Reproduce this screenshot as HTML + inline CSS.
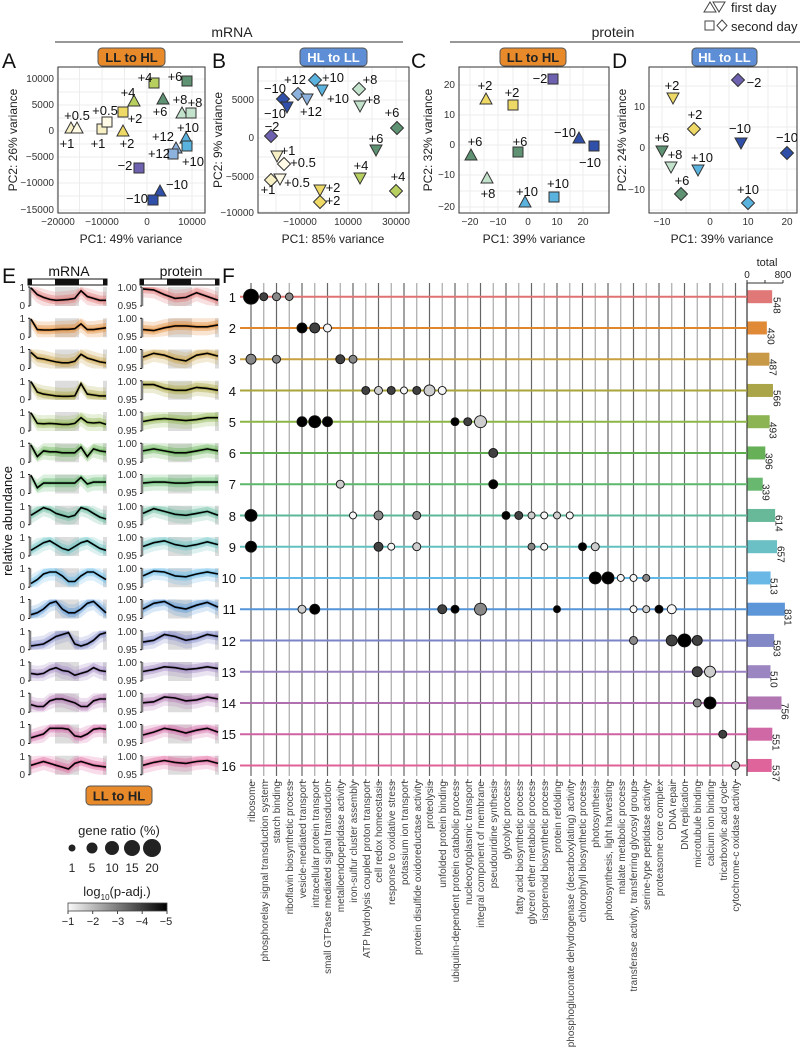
<!DOCTYPE html>
<html><head><meta charset="utf-8"><style>
html,body{margin:0;padding:0;background:#fff}
svg{display:block;font-family:"Liberation Sans",Arial,sans-serif}
</style></head><body>
<svg id="s" width="800" height="1056" viewBox="0 0 800 1056" xmlns="http://www.w3.org/2000/svg">
<rect width="800" height="1056" fill="#fff"/>
<text x="232" y="37" font-size="14" text-anchor="middle" fill="#222">mRNA</text>
<line x1="55" y1="42" x2="403" y2="42" stroke="#777" stroke-width="1.5"/>
<text x="613" y="37" font-size="14" text-anchor="middle" fill="#222">protein</text>
<line x1="450" y1="42" x2="800" y2="42" stroke="#777" stroke-width="1.5"/>
<text x="731" y="12" font-size="13" fill="#222">first day</text>
<text x="731" y="31" font-size="13" fill="#222">second day</text>
<path d="M704,12 L710,2 L716,12Z M713,2 L725,2 L719,12Z" fill="none" stroke="#444" stroke-width="1"/>
<rect x="705" y="21" width="9" height="9" fill="none" stroke="#444"/>
<path d="M722,20 L727,25.5 L722,31 L717,25.5Z" fill="none" stroke="#444"/>
<g font-size="21" fill="#111">
<text x="2" y="68">A</text><text x="212" y="68">B</text><text x="411" y="68">C</text><text x="612" y="68">D</text>
<text x="2" y="283">E</text><text x="222" y="283">F</text>
</g>
<g font-size="13" font-weight="bold" text-anchor="middle">
<rect x="98" y="48" width="67" height="18" rx="4" fill="#e8892a" stroke="#555"/><text x="131.5" y="62" fill="#222">LL to HL</text>
<rect x="300" y="48" width="67" height="18" rx="4" fill="#5e8fd6" stroke="#555"/><text x="333.5" y="62" fill="#fff">HL to LL</text>
<rect x="500" y="48" width="66" height="18" rx="4" fill="#e8892a" stroke="#555"/><text x="533" y="62" fill="#222">LL to HL</text>
<rect x="692" y="48" width="65" height="18" rx="4" fill="#5e8fd6" stroke="#555"/><text x="724.5" y="62" fill="#fff">HL to LL</text>
<rect x="86" y="786" width="66" height="19" rx="4" fill="#e8892a" stroke="#555"/><text x="119" y="800.5" fill="#222">LL to HL</text>
</g>
<g id="pcagrid"></g>
<g fill="none" stroke="#333" stroke-width="1">
<rect x="58" y="67" width="147" height="146"/>
<rect x="258" y="67" width="151" height="146"/>
<rect x="459" y="67" width="150" height="146"/>
<rect x="649" y="67" width="148" height="146"/>
</g>
<g font-size="10" fill="#333">
<g text-anchor="end">
<text x="54" y="82">10000</text><text x="54" y="108">5000</text><text x="54" y="134">0</text><text x="54" y="160">−5000</text><text x="54" y="186">−10000</text><text x="54" y="213">−15000</text>
<text x="254" y="103">5000</text><text x="254" y="141">0</text><text x="254" y="180">−5000</text><text x="254" y="216">−10000</text>
<text x="455" y="88">20</text><text x="455" y="118">10</text><text x="455" y="148">0</text><text x="455" y="178">−10</text><text x="455" y="210">−20</text>
<text x="645" y="110">10</text><text x="645" y="151">0</text><text x="645" y="193">−10</text>
</g>
<g text-anchor="middle">
<text x="58" y="225">−20000</text><text x="102" y="225">−10000</text><text x="147" y="225">0</text><text x="192" y="225">10000</text>
<text x="300" y="225">−10000</text><text x="348" y="225">10000</text><text x="396" y="225">30000</text>
<text x="470" y="225">−20</text><text x="498" y="225">−10</text><text x="528" y="225">0</text><text x="557" y="225">10</text><text x="583" y="225">20</text>
<text x="662" y="225">−10</text><text x="710" y="225">0</text><text x="748" y="225">10</text><text x="787" y="225">20</text>
</g>
</g>
<g font-size="12" fill="#222" text-anchor="middle">
<text x="131" y="243">PC1: 49% variance</text><text x="333" y="243">PC1: 85% variance</text>
<text x="534" y="243">PC1: 39% variance</text><text x="722" y="243">PC1: 39% variance</text>
<text transform="translate(17,140) rotate(-90)">PC2: 26% variance</text>
<text transform="translate(222,140) rotate(-90)">PC2: 9% variance</text>
<text transform="translate(432,140) rotate(-90)">PC2: 32% variance</text>
<text transform="translate(626,140) rotate(-90)">PC2: 24% variance</text>
</g>
<g id="markers"></g>
<g font-size="13" fill="#111" text-anchor="middle">
<text x="77" y="120">+0.5</text><text x="67" y="148">+1</text><text x="105" y="115">+0.5</text><text x="98" y="148">+1</text>
<text x="127" y="148">+2</text><text x="135" y="123">+2</text><text x="128" y="97">+4</text><text x="145" y="82">+4</text>
<text x="160" y="116">+6</text><text x="175" y="81">+6</text><text x="180" y="104">+8</text><text x="195" y="107">+8</text>
<text x="188" y="132">+10</text><text x="193" y="166">+10</text><text x="163" y="141">+12</text><text x="159" y="158">+12</text>
<text x="125" y="170">−2</text><text x="177" y="189">−10</text><text x="137" y="203">−10</text>
<text x="275" y="93">−10</text><text x="275" y="118">−10</text><text x="295" y="84">+12</text><text x="311" y="116">+12</text>
<text x="333" y="82">+10</text><text x="338" y="103">+10</text><text x="370" y="84">+8</text><text x="373" y="104">+8</text>
<text x="272" y="131">−2</text><text x="288" y="155">+1</text><text x="303" y="167">+0.5</text><text x="268" y="194">+1</text><text x="297" y="187">+0.5</text>
<text x="333" y="192">+2</text><text x="333" y="205">+2</text><text x="361" y="170">+4</text><text x="376" y="143">+6</text>
<text x="392" y="117">+6</text><text x="398" y="181">+4</text>
<text x="485" y="90">+2</text><text x="512" y="97">+2</text><text x="540" y="83">−2</text><text x="565" y="137">−10</text><text x="590" y="167">−10</text>
<text x="475" y="146">+6</text><text x="520" y="146">+6</text><text x="488" y="198">+8</text><text x="527" y="196">+10</text><text x="558" y="188">+10</text>
<text x="672" y="90">+2</text><text x="695" y="119">+2</text><text x="754" y="87">−2</text><text x="740" y="133">−10</text><text x="787" y="142">−10</text>
<text x="662" y="142">+6</text><text x="675" y="159">+8</text><text x="682" y="185">+6</text><text x="702" y="162">+10</text><text x="748" y="194">+10</text>
</g>
<text x="69" y="276" font-size="14" text-anchor="middle" fill="#111">mRNA</text>
<text x="181" y="276" font-size="14" text-anchor="middle" fill="#111">protein</text>
<g id="epanel"></g>
<text transform="translate(12,521) rotate(-90)" font-size="13" text-anchor="middle" fill="#111">relative abundance</text>
<g id="fpanel"></g>
<text x="767" y="266" font-size="11" text-anchor="middle" fill="#222">total</text>
<text x="747" y="278" font-size="10" text-anchor="middle" fill="#222">0</text>
<text x="783" y="278" font-size="10" text-anchor="middle" fill="#222">800</text>
<g font-size="13" fill="#111" text-anchor="end">
<text x="236" y="302">1</text><text x="236" y="333">2</text><text x="236" y="364">3</text><text x="236" y="396">4</text>
<text x="236" y="427">5</text><text x="236" y="458">6</text><text x="236" y="489">7</text><text x="236" y="521">8</text>
<text x="236" y="552">9</text><text x="236" y="583">10</text><text x="236" y="614">11</text><text x="236" y="646">12</text>
<text x="236" y="677">13</text><text x="236" y="708">14</text><text x="236" y="739">15</text><text x="236" y="771">16</text>
</g>
<g font-size="10" fill="#222">
<text transform="translate(776,297) rotate(90)" dominant-baseline="middle">548</text>
<text transform="translate(770,328) rotate(90)" dominant-baseline="middle">430</text>
<text transform="translate(772,359) rotate(90)" dominant-baseline="middle">487</text>
<text transform="translate(776,390) rotate(90)" dominant-baseline="middle">566</text>
<text transform="translate(772,422) rotate(90)" dominant-baseline="middle">493</text>
<text transform="translate(768,453) rotate(90)" dominant-baseline="middle">396</text>
<text transform="translate(765,484) rotate(90)" dominant-baseline="middle">339</text>
<text transform="translate(778,515) rotate(90)" dominant-baseline="middle">614</text>
<text transform="translate(780,546) rotate(90)" dominant-baseline="middle">657</text>
<text transform="translate(773,578) rotate(90)" dominant-baseline="middle">513</text>
<text transform="translate(787,609) rotate(90)" dominant-baseline="middle">831</text>
<text transform="translate(776,640) rotate(90)" dominant-baseline="middle">593</text>
<text transform="translate(773,671) rotate(90)" dominant-baseline="middle">510</text>
<text transform="translate(784,703) rotate(90)" dominant-baseline="middle">756</text>
<text transform="translate(775,734) rotate(90)" dominant-baseline="middle">551</text>
<text transform="translate(775,765) rotate(90)" dominant-baseline="middle">537</text>
</g>
<g font-size="10" fill="#444" text-anchor="end">
<text transform="translate(255,781) rotate(-90)">ribosome</text>
<text transform="translate(268,781) rotate(-90)">phosphorelay signal transduction system</text>
<text transform="translate(280,781) rotate(-90)">starch binding</text>
<text transform="translate(293,781) rotate(-90)">riboflavin biosynthetic process</text>
<text transform="translate(306,781) rotate(-90)">vesicle-mediated transport</text>
<text transform="translate(319,781) rotate(-90)">intracellular protein transport</text>
<text transform="translate(331,781) rotate(-90)">small GTPase mediated signal transduction</text>
<text transform="translate(344,781) rotate(-90)">metalloendopeptidase activity</text>
<text transform="translate(357,781) rotate(-90)">iron-sulfur cluster assembly</text>
<text transform="translate(370,781) rotate(-90)">ATP hydrolysis coupled proton transport</text>
<text transform="translate(382,781) rotate(-90)">cell redox homeostasis</text>
<text transform="translate(395,781) rotate(-90)">response to oxidative stress</text>
<text transform="translate(408,781) rotate(-90)">potassium ion transport</text>
<text transform="translate(421,781) rotate(-90)">protein disulfide oxidoreductase activity</text>
<text transform="translate(433,781) rotate(-90)">proteolysis</text>
<text transform="translate(446,781) rotate(-90)">unfolded protein binding</text>
<text transform="translate(459,781) rotate(-90)">ubiquitin-dependent protein catabolic process</text>
<text transform="translate(472,781) rotate(-90)">nucleocytoplasmic transport</text>
<text transform="translate(484,781) rotate(-90)">integral component of membrane</text>
<text transform="translate(497,781) rotate(-90)">pseudouridine synthesis</text>
<text transform="translate(510,781) rotate(-90)">glycolytic process</text>
<text transform="translate(523,781) rotate(-90)">fatty acid biosynthetic process</text>
<text transform="translate(535,781) rotate(-90)">glycerol ether metabolic process</text>
<text transform="translate(548,781) rotate(-90)">isoprenoid biosynthetic process</text>
<text transform="translate(561,781) rotate(-90)">protein refolding</text>
<text transform="translate(574,781) rotate(-90)">phosphogluconate dehydrogenase (decarboxylating) activity</text>
<text transform="translate(586,781) rotate(-90)">chlorophyll biosynthetic process</text>
<text transform="translate(599,781) rotate(-90)">photosynthesis</text>
<text transform="translate(612,781) rotate(-90)">photosynthesis, light harvesting</text>
<text transform="translate(625,781) rotate(-90)">malate metabolic process</text>
<text transform="translate(637,781) rotate(-90)">transferase activity, transferring glycosyl groups</text>
<text transform="translate(650,781) rotate(-90)">serine-type peptidase activity</text>
<text transform="translate(663,781) rotate(-90)">proteasome core complex</text>
<text transform="translate(676,781) rotate(-90)">DNA repair</text>
<text transform="translate(688,781) rotate(-90)">DNA replication</text>
<text transform="translate(701,781) rotate(-90)">microtubule binding</text>
<text transform="translate(714,781) rotate(-90)">calcium ion binding</text>
<text transform="translate(727,781) rotate(-90)">tricarboxylic acid cycle</text>
<text transform="translate(739,781) rotate(-90)">cytochrome-c oxidase activity</text>
</g>
<text x="119" y="835" font-size="13" text-anchor="middle" fill="#222">gene ratio (%)</text>
<g fill="#222">
<circle cx="72" cy="848" r="3.5"/><circle cx="92" cy="848" r="5.5"/><circle cx="112" cy="848" r="7"/><circle cx="132" cy="848" r="8"/><circle cx="152" cy="848" r="9"/>
</g>
<g font-size="12" fill="#222" text-anchor="middle">
<text x="72" y="872">1</text><text x="92" y="872">5</text><text x="112" y="872">10</text><text x="132" y="872">15</text><text x="152" y="872">20</text>
</g>
<text x="117" y="896" font-size="13" text-anchor="middle" fill="#222">log<tspan font-size="8" dy="4">10</tspan><tspan dy="-4">(p-adj.)</tspan></text>
<defs><linearGradient id="gr" x1="0" x2="1"><stop offset="0" stop-color="#fafafa"/><stop offset="1" stop-color="#000"/></linearGradient></defs>
<rect x="68" y="903" width="99" height="8" fill="url(#gr)" stroke="#444" stroke-width="0.8"/>
<g stroke="#444"><line x1="68" y1="911" x2="68" y2="914"/><line x1="92.7" y1="911" x2="92.7" y2="914"/><line x1="117.5" y1="911" x2="117.5" y2="914"/><line x1="142.2" y1="911" x2="142.2" y2="914"/><line x1="167" y1="911" x2="167" y2="914"/></g>
<g font-size="11" fill="#222" text-anchor="middle">
<text x="68" y="925">−1</text><text x="93" y="925">−2</text><text x="118" y="925">−3</text><text x="142" y="925">−4</text><text x="166" y="925">−5</text>
</g>
<g font-size="10" fill="#333" text-anchor="end">
<text x="25" y="291">1</text><text x="25" y="309">0</text><text x="137" y="291">1.00</text><text x="137" y="309">0.95</text>
<text x="25" y="322">1</text><text x="25" y="340">0</text><text x="137" y="322">1.00</text><text x="137" y="340">0.95</text>
<text x="25" y="353">1</text><text x="25" y="371">0</text><text x="137" y="353">1.00</text><text x="137" y="371">0.95</text>
<text x="25" y="385">1</text><text x="25" y="403">0</text><text x="137" y="385">1.00</text><text x="137" y="403">0.95</text>
<text x="25" y="416">1</text><text x="25" y="434">0</text><text x="137" y="416">1.00</text><text x="137" y="434">0.95</text>
<text x="25" y="447">1</text><text x="25" y="465">0</text><text x="137" y="447">1.00</text><text x="137" y="465">0.95</text>
<text x="25" y="478">1</text><text x="25" y="496">0</text><text x="137" y="478">1.00</text><text x="137" y="496">0.95</text>
<text x="25" y="510">1</text><text x="25" y="528">0</text><text x="137" y="510">1.00</text><text x="137" y="528">0.95</text>
<text x="25" y="541">1</text><text x="25" y="559">0</text><text x="137" y="541">1.00</text><text x="137" y="559">0.95</text>
<text x="25" y="572">1</text><text x="25" y="590">0</text><text x="137" y="572">1.00</text><text x="137" y="590">0.95</text>
<text x="25" y="603">1</text><text x="25" y="621">0</text><text x="137" y="603">1.00</text><text x="137" y="621">0.95</text>
<text x="25" y="635">1</text><text x="25" y="653">0</text><text x="137" y="635">1.00</text><text x="137" y="653">0.95</text>
<text x="25" y="666">1</text><text x="25" y="684">0</text><text x="137" y="666">1.00</text><text x="137" y="684">0.95</text>
<text x="25" y="697">1</text><text x="25" y="715">0</text><text x="137" y="697">1.00</text><text x="137" y="715">0.95</text>
<text x="25" y="728">1</text><text x="25" y="746">0</text><text x="137" y="728">1.00</text><text x="137" y="746">0.95</text>
<text x="25" y="760">1</text><text x="25" y="778">0</text><text x="137" y="760">1.00</text><text x="137" y="778">0.95</text>
</g>
</svg>
<script>
var NS="http://www.w3.org/2000/svg";
function el(p,t,a){var e=document.createElementNS(NS,t);for(var k in a)e.setAttribute(k,a[k]);p.appendChild(e);return e;}
var g=document.getElementById('pcagrid');
var grids=[[58,205,[57,102,147,192,79.5,124.5,169.5],[79,105,131,157,183,210,92,118,144,170,196]],
[258,409,[300,348,396,276,324,372],[100,138,177,212,81,119,157,195]],
[459,609,[470,498,528,557,583,484,513,542,570],[85,115,145,175,207,100,130,160,191]],
[649,797,[662,710,748,787,686,729,768],[107,148,190,86,127,169,210]]];
grids.forEach(function(q){q[2].forEach(function(x){el(g,'line',{x1:x,x2:x,y1:67,y2:213,stroke:'#ececec'});});
q[3].forEach(function(y){el(g,'line',{x1:q[0],x2:q[1],y1:y,y2:y,stroke:'#ececec'});});});
var C={m10:'#2f4fa8',m2:'#6e62b0',h:'#fffbe6',o:'#f6f0c4',t:'#efd966',f:'#b7cf5e',s:'#5e9272',e:'#c2e2cc',x:'#5ab2de',w:'#8eb2de'};
var M=[['u',71,128,'o'],['u',77,128,'h'],['q',102,129,'o'],['q',107,122,'h'],['u',123,131,'t'],['q',123,112,'t'],['u',134,101,'f'],['q',154,83,'f'],['u',163,99,'s'],['q',187,81,'s'],['u',182,113,'e'],['q',191,113,'e'],['u',186,138,'x'],['q',187,146,'x'],['u',176,148,'w'],['q',173,154,'w'],['q',139,168,'m2'],['u',160,191,'m10'],['q',153,200,'m10'],
['d',283,99,'m10'],['v',287,107,'m10'],['d',298,94,'w'],['v',307,99,'w'],['d',315,80,'x'],['v',322,90,'x'],['d',359,89,'e'],['v',360,106,'e'],['d',271,136,'m2'],['v',277,156,'o'],['d',284,164,'h'],['d',271,180,'o'],['v',280,179,'h'],['v',320,190,'t'],['d',320,202,'t'],['v',360,178,'f'],['v',376,150,'s'],['d',397,128,'s'],['d',396,191,'f'],
['u',486,99,'t'],['q',513,105,'t'],['q',553,79,'m2'],['u',579,138,'m10'],['q',594,146,'m10'],['u',471,155,'s'],['q',518,152,'s'],['u',487,178,'e'],['u',525,202,'x'],['q',554,197,'x'],
['v',673,98,'t'],['d',694,129,'t'],['d',738,80,'m2'],['v',741,143,'m10'],['d',787,153,'m10'],['v',662,151,'s'],['v',671,167,'e'],['d',681,194,'s'],['v',698,170,'x'],['d',748,203,'x']];
var mg=document.getElementById('markers');
M.forEach(function(m){var x=m[1],y=m[2],f=C[m[3]],a={fill:f,stroke:'#333','stroke-width':1},d;
if(m[0]=='q'){el(mg,'rect',Object.assign({x:x-5,y:y-5,width:10,height:10},a));return;}
if(m[0]=='u')d='M'+(x-6)+','+(y+5)+'L'+x+','+(y-6)+'L'+(x+6)+','+(y+5)+'Z';
if(m[0]=='v')d='M'+(x-6)+','+(y-5)+'L'+x+','+(y+6)+'L'+(x+6)+','+(y-5)+'Z';
if(m[0]=='d')d='M'+x+','+(y-6.5)+'L'+(x+6.5)+','+y+'L'+x+','+(y+6.5)+'L'+(x-6.5)+','+y+'Z';
a.d=d;el(mg,'path',a);});
var RC=['#e07272','#e0862c','#c9a040','#aaa53a','#8cb548','#5eae4e','#5cb86a','#5cb898','#62c0c0','#62b8e6','#5494d8','#7c84c8','#9a80c0','#b070b0','#d062a2','#e0609a'];
var BC=['#e07878','#e08a38','#c89a48','#aaa548','#8cb452','#66b058','#68b870','#68b89a','#6ac0c4','#6ab8e6','#5c96d8','#8288c6','#9c86c2','#b276b2','#d068a6','#e0649c'];
var ep=document.getElementById('epanel');
var MR=[[.95,.6,.45,.35,.3,.32,.35,.4,.8,.5,.4,.3,.3],[.95,.4,.38,.38,.4,.42,.42,.45,.7,.4,.4,.45,.5],[.85,.55,.5,.42,.35,.3,.3,.38,.75,.55,.45,.35,.3],[.95,.4,.3,.25,.2,.18,.18,.2,.85,.3,.25,.2,.2],[.95,.4,.38,.4,.38,.35,.35,.4,.7,.45,.42,.45,.35],[.9,.3,.6,.55,.55,.5,.5,.5,.8,.3,.7,.6,.55],[.95,.3,.55,.55,.55,.55,.55,.55,.85,.5,.6,.6,.6],[.5,.7,.9,.8,.6,.5,.4,.5,.9,.8,.6,.4,.3],[.3,.5,.7,.8,.6,.4,.3,.5,.7,.8,.6,.4,.3],[.2,.4,.7,.8,.8,.6,.3,.3,.6,.8,.8,.6,.4],[.2,.3,.5,.8,.9,.5,.3,.3,.5,.8,.9,.6,.3],[.2,.25,.3,.5,.7,.8,.9,.3,.2,.3,.5,.8,.9],[.4,.35,.4,.6,.7,.55,.5,.3,.4,.5,.7,.55,.5],[.4,.3,.3,.6,.7,.7,.6,.5,.3,.3,.6,.7,.7],[.3,.4,.5,.8,.8,.8,.75,.4,.35,.5,.75,.8,.75],[.5,.6,.7,.6,.5,.4,.3,.6,.7,.6,.5,.45,.4]];
var PR=[[.9,.85,.6,.4,.45,.7,.5,.3],[.4,.35,.5,.6,.6,.55,.55,.65],[.6,.8,.7,.5,.4,.7,.8,.65],[.8,.8,.6,.5,.5,.65,.6,.5],[.5,.6,.65,.6,.55,.6,.7,.7],[.6,.7,.6,.5,.5,.6,.7,.6],[.55,.6,.6,.55,.55,.6,.6,.6],[.6,.85,.7,.55,.5,.6,.7,.5],[.5,.7,.8,.6,.5,.6,.75,.6],[.6,.85,.8,.6,.55,.7,.8,.7],[.5,.8,.9,.6,.5,.7,.85,.6],[.4,.5,.8,.7,.5,.6,.8,.7],[.5,.6,.75,.7,.6,.65,.75,.65],[.5,.55,.8,.75,.6,.65,.8,.7],[.45,.6,.8,.7,.55,.7,.8,.6],[.5,.65,.75,.65,.6,.7,.75,.6]];
function hb(x0,y){el(ep,'rect',{x:x0,y:y,width:79,height:6,fill:'#fff',stroke:'#111','stroke-width':1});
el(ep,'rect',{x:x0,y:y,width:4,height:6,fill:'#111'});el(ep,'rect',{x:x0+27,y:y,width:24,height:6,fill:'#111'});el(ep,'rect',{x:x0+75,y:y,width:4,height:6,fill:'#111'});}
hb(28,279);hb(140,279);
function pts(arr,x0,w,y0,h){var s=[];for(var i=0;i<arr.length;i++){s.push((x0+w*i/(arr.length-1)).toFixed(1)+','+(y0+h-arr[i]*h).toFixed(1));}return s;}
for(var r=0;r<16;r++){var y=287+31.25*r,h=19;
[[28,79,MR[r],55,79],[140,79,PR[r],168,192]].forEach(function(p,k){var x0=p[0],w=p[1];
el(ep,'rect',{x:x0,y:y,width:4,height:h,fill:'#ddd'});el(ep,'rect',{x:x0+75,y:y,width:4,height:h,fill:'#ddd'});
el(ep,'rect',{x:p[3],y:y,width:p[4]-p[3],height:h,fill:'#ddd'});
var arr=p[2],hi=[],lo=[];
for(var i=0;i<arr.length;i++){hi.push(Math.min(1,arr[i]+0.45));lo.push(Math.max(0,arr[i]-0.45));}
el(ep,'polygon',{points:pts(hi,x0+3,w-4,y,h).concat(pts(lo,x0+3,w-4,y,h).reverse()).join(' '),fill:RC[r],'fill-opacity':0.22});
hi=[];lo=[];for(i=0;i<arr.length;i++){hi.push(Math.min(1,arr[i]+0.25));lo.push(Math.max(0,arr[i]-0.22));}
el(ep,'polygon',{points:pts(hi,x0+3,w-4,y,h).concat(pts(lo,x0+3,w-4,y,h).reverse()).join(' '),fill:RC[r],'fill-opacity':0.4});
var a2=[],b2=[];for(i=0;i<arr.length;i++){a2.push(Math.min(1,arr[i]+0.1));b2.push(Math.max(0,arr[i]-0.1));}
el(ep,'polygon',{points:pts(a2,x0+3,w-4,y,h).concat(pts(b2,x0+3,w-4,y,h).reverse()).join(' '),fill:RC[r],'fill-opacity':0.5});
el(ep,'polyline',{points:pts(arr,x0+3,w-4,y,h).join(' '),fill:'none',stroke:'#000','stroke-width':1.6});
el(ep,'line',{x1:x0+2,x2:x0+2,y1:y,y2:y+h,stroke:'#222'});
el(ep,'line',{x1:x0,x2:x0+2,y1:y,y2:y,stroke:'#222'});el(ep,'line',{x1:x0,x2:x0+2,y1:y+h,y2:y+h,stroke:'#222'});
});}
var fp=document.getElementById('fpanel');
for(var i=0;i<39;i++){var x=251+12.75*i;el(fp,'line',{x1:x,x2:x,y1:283,y2:776,stroke:i%2?'#aaa':'#666','stroke-width':1.2});
el(fp,'line',{x1:x,x2:x,y1:779,y2:783,stroke:'#555'});}
el(fp,'line',{x1:747,x2:747,y1:283,y2:776,stroke:'#333','stroke-width':1.2});
el(fp,'line',{x1:747,x2:783,y1:283,y2:283,stroke:'#333'});
[747,765,783].forEach(function(x){el(fp,'line',{x1:x,x2:x,y1:280,y2:283,stroke:'#333'});});
var V=[548,430,487,566,493,396,339,614,657,513,831,593,510,756,551,537];
for(r=0;r<16;r++){var y=296.7+31.25*r;el(fp,'line',{x1:240,x2:747,y1:y,y2:y,stroke:RC[r],'stroke-width':2});
el(fp,'rect',{x:747.5,y:y-6.5,width:V[r]/800*36,height:13,fill:BC[r]});}
var S={K:'#000',D:'#404040',G:'#888',L:'#cdcdcd',W:'#f6f6f6'};
var DOT=[[[0,'K',7.5],[1,'D',4],[2,'G',4],[3,'G',3.8]],[[4,'K',5],[5,'D',5],[6,'W',4]],[[0,'G',5],[2,'G',4],[7,'D',4.5],[8,'G',4]],
[[9,'D',4],[10,'L',4],[11,'D',4],[12,'W',3.5],[13,'D',4],[14,'L',5.5],[15,'W',4]],[[4,'K',5],[5,'K',6],[6,'K',5],[16,'K',4],[17,'D',4],[18,'L',6]],
[[19,'D',4.5]],[[7,'L',4],[19,'K',4.5]],[[0,'K',6],[8,'W',3.5],[10,'G',4.5],[13,'G',4],[20,'K',4],[21,'D',4],[22,'L',3.5],[23,'W',3.5],[24,'L',3.5],[25,'W',3.5]],
[[0,'K',5.5],[10,'D',4.5],[11,'W',3.5],[13,'L',4],[22,'G',3.5],[23,'W',3.5],[26,'K',4],[27,'L',4]],[[27,'K',6],[28,'K',6],[29,'W',3.5],[30,'W',3.5],[31,'G',3.5]],
[[4,'L',4],[5,'K',5],[15,'D',4.5],[16,'K',4],[18,'G',6],[24,'K',3.5],[30,'W',3.5],[31,'L',3.5],[32,'K',4],[33,'W',4.5]],
[[30,'G',4],[33,'D',5.5],[34,'K',6.5],[35,'D',5]],[[35,'D',5],[36,'L',5.5]],[[35,'G',4],[36,'K',6]],[[37,'D',4]],[[38,'L',4]]];
DOT.forEach(function(row,r){var y=296.7+31.25*r;row.forEach(function(d){el(fp,'circle',{cx:251+12.75*d[0],cy:y,r:d[2],fill:S[d[1]],stroke:'#111','stroke-width':0.9});});});
</script>
</body></html>
